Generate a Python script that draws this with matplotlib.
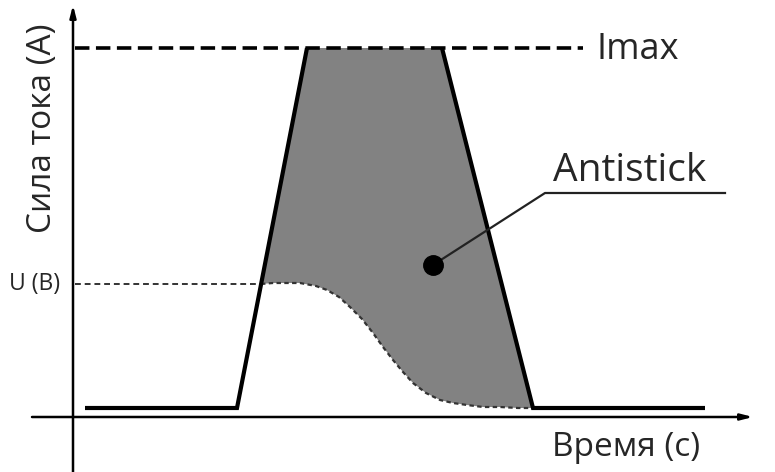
import matplotlib.pyplot as plt

# schematic values, origin at the crossing of the two axes (arbitrary units)
i_base = 9
i_max = 369
u_level = 133

# outline of the current pulse
pulse_t = [12, 164, 234, 369, 460, 632]
pulse_i = [i_base, i_base, i_max, i_max, i_base, i_base]

# dotted voltage curve (lower edge of the antistick area)
volt_t = [188, 200, 227, 243, 254, 266, 277, 289, 300, 310, 320, 330, 340, 353, 367, 380, 394, 410, 427, 445, 460]
volt_i = [133, 134, 134, 131, 127, 120, 110, 98, 84, 70, 57, 45, 34, 24, 17, 14, 12, 10, 10, 9, 9]

dot_t, dot_i = 360, 152
leader_t = [360, 472, 652]
leader_i = [152, 224, 224]

fig = plt.figure(figsize=(7.75, 4.72), dpi=100)
ax = fig.add_axes([0, 0, 1, 1])
ax.set_xlim(-73, 702)
ax.set_ylim(-55, 417)
ax.axis('off')

font = ['Open Sans', 'DejaVu Sans']
txt = '#262626'

# axes with arrows
ax.annotate('', xy=(0, 412), xytext=(0, -55),
            arrowprops=dict(arrowstyle='-|>,head_length=0.7,head_width=0.18', lw=1.8, color='black', shrinkA=0, shrinkB=0))
ax.annotate('', xy=(680, 0), xytext=(-41, 0),
            arrowprops=dict(arrowstyle='-|>,head_length=0.7,head_width=0.18', lw=1.8, color='black', shrinkA=0, shrinkB=0))

# shaded antistick zone
fill_t = [188, pulse_t[2], pulse_t[3], pulse_t[4]] + volt_t[::-1]
fill_i = [u_level, i_max, i_max, i_base] + volt_i[::-1]
ax.fill(fill_t, fill_i, color='#828282', lw=0, zorder=1)

# Imax level
ax.plot([2, 510], [i_max, i_max], color='black', lw=2.6, dashes=(4, 1.8), zorder=3)
# U level and voltage curve
ax.plot([2, 188], [u_level, u_level], color='#333333', lw=1.4, dashes=(3, 2), zorder=3)
ax.plot(volt_t, volt_i, color='#333333', lw=1.6, dashes=(2, 1.5), zorder=3)

# current pulse: rising and falling flanks, top left to the dashed Imax line
ax.plot(pulse_t[:3], pulse_i[:3], color='black', lw=3, solid_joinstyle='miter', solid_capstyle='butt', zorder=4)
ax.plot(pulse_t[3:], pulse_i[3:], color='black', lw=3, solid_joinstyle='miter', solid_capstyle='butt', zorder=4)

# callout
ax.plot(leader_t, leader_i, color='#222222', lw=1.6, zorder=4)
ax.plot(dot_t, dot_i, 'o', color='black', ms=14, zorder=5)

ax.text(524, 367, 'Imax', fontsize=26, family=font, color=txt, va='center', ha='left')
ax.text(480, 227, 'Antistick', fontsize=28, family=font, color=txt, va='bottom', ha='left')
ax.text(-13, 133, 'U (B)', fontsize=16.5, family=font, color=txt, va='center', ha='right')
ax.text(479, -31, 'Время (с)', fontsize=24, family=font, color=txt, va='center', ha='left')
ax.text(-30, 289, 'Сила тока (А)', fontsize=24, family=font, color=txt, va='center', ha='center', rotation=90)

fig.savefig('out.png', dpi=100)
